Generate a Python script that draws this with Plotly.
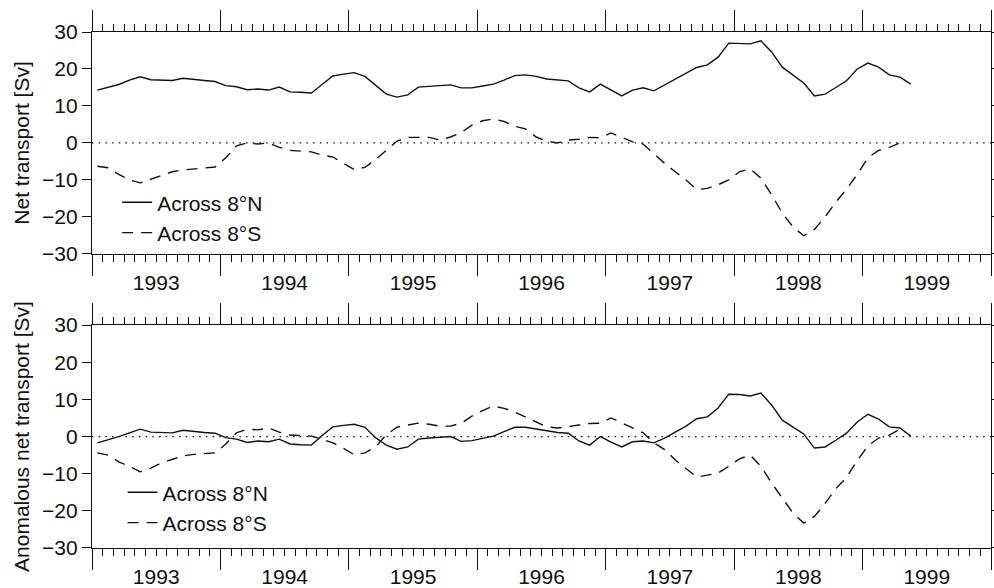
import numpy as np
import plotly.graph_objects as go

# ---------------- data (monthly, starting Jan 1993) ----------------
start_year = 1993
net_8N = [14.3, 15.0, 15.8, 17.0, 17.9, 17.1, 17.0, 16.9, 17.5, 17.1, 16.9, 16.6,
          15.5, 15.2, 14.4, 14.6, 14.3, 15.1, 13.8, 13.7, 13.5, 15.8, 18.1, 18.6,
          19.0, 18.0, 15.5, 13.2, 12.4, 13.0, 15.1, 15.3, 15.5, 15.7, 14.9, 14.9,
          15.4, 15.9, 17.0, 18.2, 18.4, 18.0, 17.3, 17.0, 16.8, 14.9, 13.8, 15.9,
          14.3, 12.7, 14.3, 14.9, 14.1, 15.7, 17.3, 18.8, 20.4, 21.1, 23.2, 27.0,
          27.0, 26.8, 27.6, 24.6, 20.5, 18.3, 16.2, 12.7, 13.2, 15.0, 16.8, 20.0,
          21.6, 20.5, 18.4, 17.8, 15.9]
net_8S = [-6.3, -6.7, -8.5, -10.0, -10.8, -9.8, -8.6, -7.8, -7.3, -7.0, -6.7, -6.5,
          -4.0, -0.8, 0.0, -0.3, 0.0, -1.2, -2.0, -2.3, -2.4, -3.3, -3.8, -5.5,
          -7.2, -6.6, -4.5, -2.0, 0.5, 1.5, 1.6, 1.5, 0.8, 1.6, 2.8, 4.8,
          6.0, 6.5, 5.8, 4.5, 3.8, 1.6, 0.5, 0.0, 0.8, 1.0, 1.5, 1.4,
          2.7, 1.5, 0.3, -0.3, -3.0, -5.5, -7.8, -10.0, -12.6, -12.3, -11.3, -10.0,
          -7.8, -7.0, -9.5, -14.0, -19.0, -22.7, -25.1, -23.4, -20.0, -16.0, -12.5, -8.5,
          -4.0, -2.0, -1.2, 0.0]
anom_8N = [-1.7, -0.9, 0.0, 1.0, 2.0, 1.2, 1.0, 1.0, 1.7, 1.3, 1.1, 0.9,
           -0.3, -0.7, -1.6, -1.2, -1.4, -0.7, -2.0, -2.2, -2.3, 0.3, 2.6, 3.0,
           3.3, 2.5, -0.3, -2.3, -3.4, -2.8, -0.7, -0.4, -0.2, 0.0, -1.3, -1.1,
           -0.5, 0.1, 1.3, 2.5, 2.5, 2.0, 1.4, 1.1, 0.9, -1.2, -2.3, 0.0,
           -1.5, -2.8, -1.4, -1.2, -1.7, -0.4, 1.2, 2.8, 4.8, 5.3, 7.7, 11.4,
           11.3, 10.9, 11.7, 8.5, 4.4, 2.5, 0.7, -3.1, -2.8, -1.0, 0.9, 3.9,
           6.0, 4.7, 2.6, 2.3, 0.1]
anom_8S = [-4.4, -5.0, -6.8, -8.0, -9.5, -8.5, -7.1, -6.2, -5.2, -4.8, -4.5, -4.4,
           -2.0, 1.0, 2.0, 1.8, 2.3, 1.2, 0.4, 0.2, 0.1, -0.7, -1.7, -3.2,
           -4.9, -4.4, -2.8, 0.5, 2.5, 3.1, 3.6, 3.3, 2.8, 2.8, 3.6, 5.5,
           7.0, 8.2, 7.6, 6.6, 5.2, 3.9, 2.6, 2.3, 2.6, 3.1, 3.5, 3.6,
           5.0, 3.6, 2.3, 1.0, -1.7, -3.5, -6.3, -8.5, -10.9, -10.4, -9.8, -8.0,
           -6.0, -5.0, -8.0, -12.5, -16.5, -20.6, -23.3, -21.5, -18.0, -14.0, -11.0, -6.5,
           -2.5, -0.4, 0.4, 2.0]
years = [1993, 1994, 1995, 1996, 1997, 1998, 1999]
y_ticks = [-30, -20, -10, 0, 10, 20, 30]
legend_names = ["Across 8°N", "Across 8°S"]
titles = ["Net transport [Sv]", "Anomalous net transport [Sv]"]


def month_x(n):
    return start_year + (np.arange(n) + 0.5) / 12.0


FONT = "Liberation Sans, Arial, Helvetica, sans-serif"
BLACK = "#111111"
xr = [years[0], years[-1] + 1]
major = list(range(years[0], years[-1] + 2))
minor_vals = [years[0] + m / 12.0 for m in range(12 * len(years) + 1)]

fig = go.Figure()

panels = [(net_8N, net_8S, "x", "y", "legend", "x3"),
          (anom_8N, anom_8S, "x2", "y2", "legend2", "x4")]
for a, b, xa, ya, lg, xl in panels:
    fig.add_trace(go.Scatter(x=month_x(len(a)), y=a, mode="lines", name=legend_names[0],
                             line=dict(color=BLACK, width=1.4), xaxis=xa, yaxis=ya,
                             legend=lg))
    fig.add_trace(go.Scatter(x=month_x(len(b)), y=b, mode="lines", name=legend_names[1],
                             line=dict(color=BLACK, width=1.4, dash="11px,8px"),
                             xaxis=xa, yaxis=ya, legend=lg))
    # invisible helper trace so the year-label axis is drawn
    fig.add_trace(go.Scatter(x=[years[0] + 0.5], y=[0], mode="markers",
                             marker=dict(opacity=0), showlegend=False, hoverinfo="skip",
                             xaxis=xl, yaxis=ya))

top_dom = [0.57, 1.0]
bot_dom = [0.0, 0.432]


def main_x(anchor):
    return dict(range=xr, anchor=anchor, showline=True, linecolor=BLACK, linewidth=1.4,
                mirror="ticks", ticks="outside", tickmode="array", tickvals=major,
                ticklen=21, tickwidth=1.3, tickcolor=BLACK, showticklabels=False,
                showgrid=False, zeroline=False, automargin=False,
                minor=dict(tickmode="array", tickvals=minor_vals, ticks="outside",
                           ticklen=7, tickwidth=1.1, tickcolor=BLACK, showgrid=False))


def label_x(over, anchor):
    return dict(range=xr, overlaying=over, anchor=anchor, showline=False, showgrid=False,
                zeroline=False, tickmode="array", tickvals=[y + 0.5 for y in years],
                ticktext=[str(y) for y in years], ticks="outside", ticklen=10,
                automargin=False,
                tickcolor="rgba(0,0,0,0)", tickfont=dict(size=21, color=BLACK, family=FONT))


def main_y(anchor, dom, title):
    return dict(domain=dom, anchor=anchor, range=[-30, 30], tickmode="array",
                tickvals=y_ticks, showline=True, linecolor=BLACK, linewidth=1.4,
                mirror="ticks", ticks="outside", ticklen=9, tickwidth=1.3, tickcolor=BLACK,
                showgrid=False, zeroline=False, automargin=False,
                tickfont=dict(size=21, color=BLACK, family=FONT),
                title=dict(text=title, font=dict(size=21, color=BLACK, family=FONT),
                           standoff=6))


fig.update_layout(
    width=994, height=588,
    margin=dict(l=92, r=3, t=32, b=40),
    paper_bgcolor="white", plot_bgcolor="white",
    font=dict(family=FONT, color=BLACK),
    xaxis=main_x("y"),
    yaxis=main_y("x", top_dom, titles[0]),
    xaxis2=main_x("y2"),
    yaxis2=main_y("x2", bot_dom, titles[1]),
    xaxis3=label_x("x", "y"),
    xaxis4=label_x("x2", "y2"),
    legend=dict(x=0.028, y=0.709, xanchor="left", yanchor="top", bgcolor="rgba(0,0,0,0)",
                tracegroupgap=0, font=dict(size=21, family=FONT, color=BLACK)),
    legend2=dict(x=0.034, y=0.147, xanchor="left", yanchor="top", bgcolor="rgba(0,0,0,0)",
                 tracegroupgap=0, font=dict(size=21, family=FONT, color=BLACK)),
    showlegend=True,
)

for yref in ["y", "y2"]:
    xref = "x domain" if yref == "y" else "x2 domain"
    fig.add_shape(type="line", xref=xref, yref=yref, x0=0, x1=1, y0=0, y1=0,
                  line=dict(color=BLACK, width=1.3, dash="1.5px,5.2px"), layer="below")

fig.write_html("out.html")
